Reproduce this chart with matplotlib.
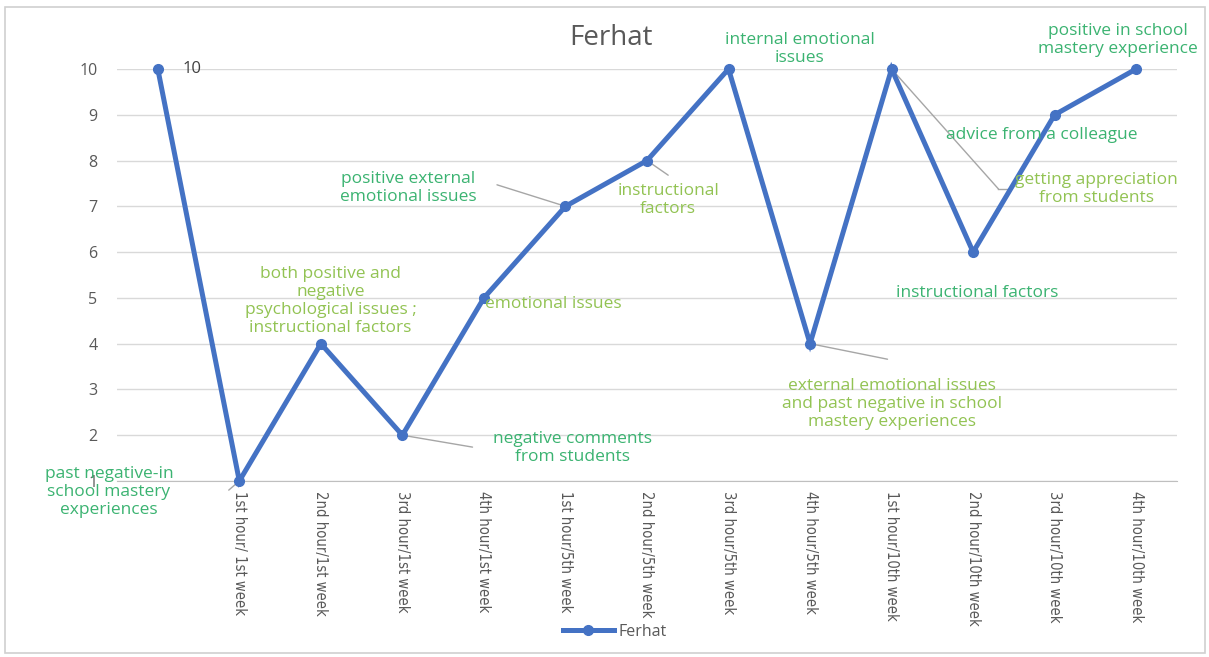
import matplotlib
matplotlib.use("Agg")
import matplotlib.pyplot as plt
from matplotlib.lines import Line2D
from matplotlib.patches import Rectangle

# Efficacy ratings per lesson
categories = ["", "1st hour/ 1st week", "2nd hour/1st week", "3rd hour/1st week",
              "4th hour/1st week", "1st hour/5th week", "2nd hour/5th week",
              "3rd hour/5th week", "4th hour/5th week", "1st hour/10th week",
              "2nd hour/10th week", "3rd hour/10th week", "4th hour/10th week"]
ferhat = [10, 1, 4, 2, 5, 7, 8, 10, 4, 10, 6, 9, 10]

DARK_GREEN = "#3BB371"
LIGHT_GREEN = "#92C353"
GRAY = "#595959"

# (text, colour, text position, point index or None, leader end)
notes = [
    ("past negative-in\nschool mastery\nexperiences", DARK_GREEN, (-0.60, 0.76), 1, (0.87, 0.80)),
    ("both positive and\nnegative\npsychological issues ;\ninstructional factors", LIGHT_GREEN, (2.12, 4.93), None, None),
    ("negative comments\nfrom students", DARK_GREEN, (5.09, 1.72), 3, (3.86, 1.74)),
    ("emotional issues", LIGHT_GREEN, (4.85, 4.87), None, None),
    ("positive external\nemotional issues", DARK_GREEN, (3.07, 7.40), 5, (4.16, 7.47)),
    ("instructional\nfactors", LIGHT_GREEN, (6.26, 7.14), 6, (6.26, 7.68)),
    ("internal emotional\nissues", DARK_GREEN, (7.87, 10.44), None, None),
    ("external emotional issues\nand past negative in school\nmastery experiences", LIGHT_GREEN, (9.0, 2.68), 8, (8.95, 3.66)),
    ("instructional factors", DARK_GREEN, (10.05, 5.11), None, None),
    ("getting appreciation\nfrom students", LIGHT_GREEN, (11.51, 7.38), 9, (10.31, 7.38)),
    ("advice from a colleague", DARK_GREEN, (10.84, 8.56), None, None),
    ("positive in school\nmastery experience", DARK_GREEN, (11.78, 10.63), None, None),
]

plt.rcParams["font.family"] = ["Open Sans", "DejaVu Sans"]

fig = plt.figure(figsize=(12.09, 6.57), dpi=100)
fig.patches.append(Rectangle((0.004, 0.006), 0.993, 0.983, transform=fig.transFigure,
                             fill=False, edgecolor="#D0D0D0", linewidth=1.2))
ax = fig.add_axes([0.0968, 0.2679, 0.8767, 0.6271])

x = list(range(len(categories)))
ax.plot(x, ferhat, color="#4472C4", linewidth=3.6, marker="o", markersize=7,
        clip_on=False, zorder=3, solid_joinstyle="miter")

ax.set_xlim(-0.5, len(categories) - 0.5)
ax.set_ylim(1, 10)
ax.set_yticks(range(1, 11))
ax.set_xticks(x)
ax.set_xticklabels(categories, rotation=270, va="top", ha="center",
                   family=["DejaVu Sans"], fontstretch="condensed", fontsize=10.6, color=GRAY)
ax.tick_params(axis="x", length=0, pad=7)
ax.tick_params(axis="y", length=0, pad=14, labelsize=11.5, labelcolor=GRAY)
ax.grid(axis="y", color="#D9D9D9", linewidth=1)
ax.set_axisbelow(True)
for side in ["left", "right", "top"]:
    ax.spines[side].set_visible(False)
ax.spines["bottom"].set_color("#BFBFBF")

# value label on the first point
ax.annotate(str(ferhat[0]), xy=(0, ferhat[0]), xytext=(18, 0), textcoords="offset points",
            va="center", ha="left", fontsize=12, color="#404040")

for text, color, pos, idx, end in notes:
    if idx is not None:
        ax.annotate("", xy=(idx, ferhat[idx]), xytext=end, annotation_clip=False,
                    arrowprops=dict(arrowstyle="-", color="#A6A6A6", linewidth=1,
                                    shrinkA=0, shrinkB=0), zorder=2)
    ax.text(pos[0], pos[1], text, color=color, fontsize=12.5, ha="center", va="center",
            linespacing=1.15, clip_on=False, zorder=4)

# short tail after the appreciation leader
ax.plot([10.31, 10.44], [7.38, 7.38], color="#A6A6A6", linewidth=1, clip_on=False)

fig.text(611 / 1209, 1 - 38 / 657, "Ferhat", ha="center", va="center",
         fontsize=20, color=GRAY)

handle = Line2D([], [], color="#4472C4", linewidth=3.6, marker="o", markersize=7)
fig.legend([handle], ["Ferhat"], loc="center", bbox_to_anchor=(615 / 1209, 1 - 632 / 657),
           frameon=False, fontsize=11.5, labelcolor=GRAY, handlelength=3.2, handletextpad=0.3)

fig.savefig("out.png", dpi=100)
